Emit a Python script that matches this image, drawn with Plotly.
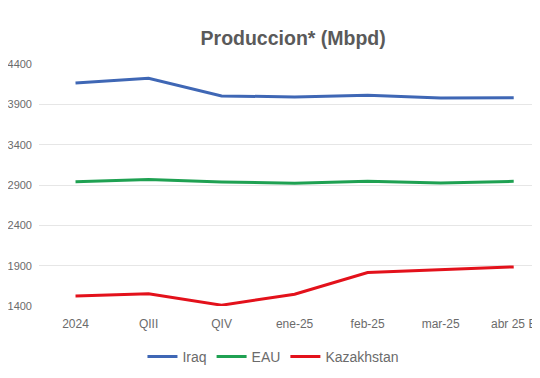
import plotly.graph_objects as go

categories = ["2024", "QIII", "QIV", "ene-25", "feb-25", "mar-25", "abr 25 E"]
iraq = [4166, 4223, 4004, 3992, 4012, 3980, 3983]
eau = [2939, 2968, 2937, 2922, 2948, 2926, 2945]
kazakhstan = [1524, 1552, 1410, 1545, 1815, 1848, 1885]
y_ticks = [1400, 1900, 2400, 2900, 3400, 3900, 4400]

font_family = "Liberation Sans, Arial, sans-serif"

fig = go.Figure()
fig.add_trace(go.Scatter(x=categories, y=iraq, name="Iraq", mode="lines",
                         line=dict(color="#3F67B5", width=3)))
fig.add_trace(go.Scatter(x=categories, y=eau, name="EAU", mode="lines",
                         line=dict(color="#1FA152", width=3)))
fig.add_trace(go.Scatter(x=categories, y=kazakhstan, name="Kazakhstan", mode="lines",
                         line=dict(color="#E3111B", width=3)))

fig.update_layout(
    width=532, height=370,
    margin=dict(l=31, r=0, t=56, b=72),
    paper_bgcolor="white", plot_bgcolor="white",
    font=dict(family=font_family, color="#6B6B6B"),
    title=dict(text="<b>Produccion* (Mbpd)</b>", x=0.536, xanchor="center",
               y=1 - 30 / 370, yanchor="middle",
               font=dict(size=19.5, color="#5A5A5A", family=font_family)),
    showlegend=True,
    legend=dict(orientation="h", x=0.468, xanchor="center", y=-(349 - 298) / 242, yanchor="middle",
                font=dict(size=14, color="#6B6B6B"), itemwidth=30,
                bgcolor="rgba(0,0,0,0)"),
    xaxis=dict(type="category", range=[-0.5, 6.36], showgrid=False, zeroline=False,
               showline=False, ticks="", tickfont=dict(size=12, color="#6B6B6B"),
               ticklabelstandoff=9),
    yaxis=dict(range=[1400, 4400], tickvals=y_ticks, showgrid=True, automargin=False,
               gridcolor="#E6E6E6", gridwidth=1, zeroline=False, showline=False,
               ticks="", tickfont=dict(size=11, color="#6B6B6B"), ticklabelstandoff=6),
)

fig.write_html("out.html")
